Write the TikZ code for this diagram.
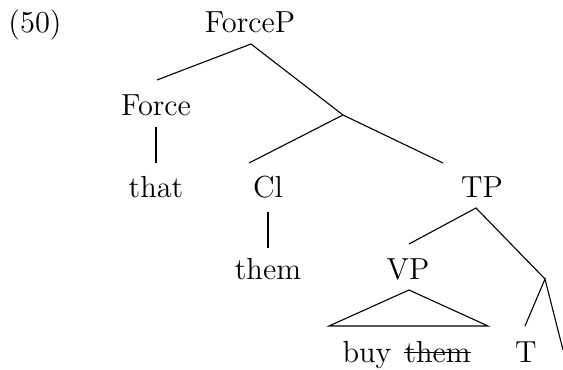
\documentclass[tikz,border=0pt]{standalone}
\begin{document}
\begin{tikzpicture}[x=0.3613pt,y=-0.3613pt,
  lab/.style={anchor=base,inner sep=0pt,font=\fontsize{11}{13}\selectfont},
  edge/.style={line width=0.4pt}]
\useasboundingbox (0,0) rectangle (563,370);
% labels
\node[lab] (ex) at (35,33) {(50)};
\node[lab] (forceP) at (250,33) {ForceP};
\node[lab] (force) at (156,116) {Force};
\node[lab] (that) at (156,197) {that};
\node[lab] (cl) at (268,197) {Cl};
\node[lab] (tp) at (482,197) {TP};
\node[lab] (them) at (268,279) {them};
\node[lab] (vp) at (408,279) {VP};
\node[lab,anchor=base east] (buy) at (392,362) {buy};
\node[lab,anchor=base west] (gone) at (404,362) {them};
\node[lab] (t) at (526,362) {T};
% strike-through
\coordinate (sL) at ([yshift=3.5pt]gone.base west);
\coordinate (sR) at ([yshift=3.5pt]gone.base east);
\draw[edge] (sL) -- (sR);
% branch points
\coordinate (fpB) at (251,44);
\coordinate (forceT) at (157,80);
\coordinate (forceB) at (156,127);
\coordinate (thatT) at (156,163);
\coordinate (bar1) at (343,115);
\coordinate (clT) at (249,163);
\coordinate (clB) at (268,212);
\coordinate (themT) at (268,248);
\coordinate (tpT) at (443,163);
\coordinate (tpB) at (476,208);
\coordinate (vpT) at (409,244);
\coordinate (bar2) at (545,279);
\coordinate (tT) at (525,326);
\coordinate (eT) at (563,350);
\coordinate (apex) at (409,290);
\coordinate (triL) at (329,326);
\coordinate (triR) at (488,326);
% edges
\draw[edge] (forceT) -- (fpB) -- (bar1);
\draw[edge] (forceB) -- (thatT);
\draw[edge] (clT) -- (bar1) -- (tpT);
\draw[edge] (clB) -- (themT);
\draw[edge] (vpT) -- (tpB) -- (bar2);
\draw[edge] (tT) -- (bar2) -- (eT);
\draw[edge] (triL) -- (apex) -- (triR) -- cycle;
\end{tikzpicture}
\end{document}
